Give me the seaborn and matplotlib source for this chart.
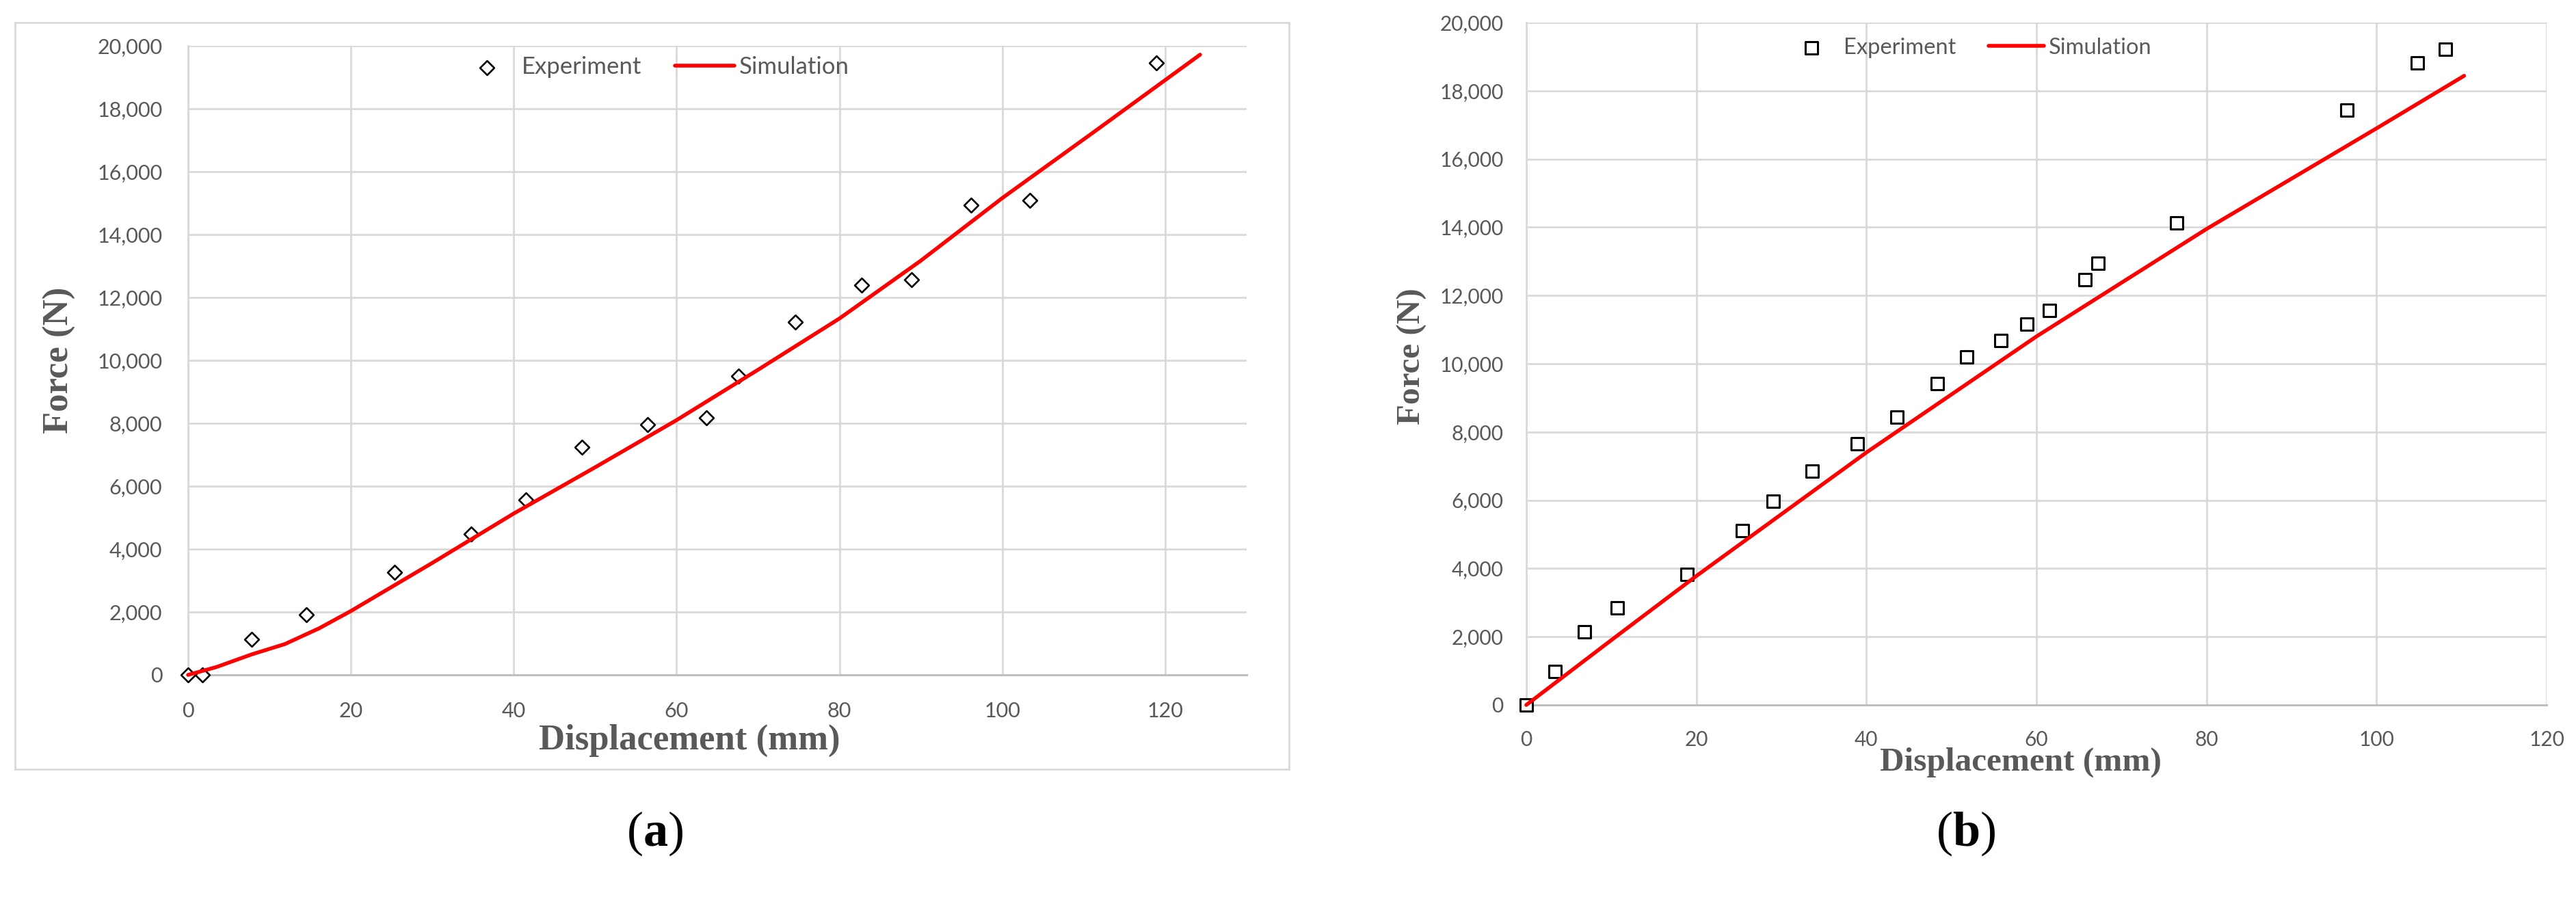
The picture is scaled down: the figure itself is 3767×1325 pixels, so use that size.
import matplotlib
matplotlib.use("Agg")
import matplotlib.pyplot as plt
import seaborn as sns
import pandas as pd
from matplotlib.patches import Rectangle
from matplotlib.ticker import FuncFormatter, MultipleLocator

# ---------------- data ----------------
exp_a_disp = [0, 1.8, 7.8, 14.5, 25.4, 34.8, 41.5, 48.4, 56.4, 63.7, 67.6, 74.6,
              82.7, 88.9, 96.2, 103.4, 118.9]
exp_a_force = [0, 0, 1140, 1920, 3270, 4480, 5570, 7240, 7960, 8170, 9500, 11210,
               12390, 12570, 14940, 15090, 19460]
sim_a_disp = [0, 3.5, 7.8, 11.9, 16.1, 20, 30, 40, 50, 60, 70, 80, 90, 100, 111.3, 124.3]
sim_a_force = [0, 250, 650, 980, 1480, 2030, 3560, 5130, 6600, 8100, 9700, 11330,
               13170, 15160, 17270, 19720]

exp_b_disp = [0, 3.35, 6.8, 10.7, 18.9, 25.4, 29.0, 33.6, 38.9, 43.6, 48.3, 51.8,
              55.8, 58.9, 61.5, 65.7, 67.2, 76.5, 96.5, 104.8, 108.1]
exp_b_force = [0, 980, 2140, 2840, 3820, 5100, 5980, 6860, 7650, 8430, 9420, 10200,
               10680, 11170, 11560, 12460, 12950, 14120, 17440, 18810, 19220]
sim_b_disp = [0, 10, 20, 40, 60, 80, 100, 110.3]
sim_b_force = [0, 1900, 3780, 7400, 10800, 13950, 16900, 18440]

x_label = "Displacement (mm)"
y_label = "Force (N)"
legend_labels = ["Experiment", "Simulation"]
panel_tags = ["a", "b"]

# ---------------- style ----------------
sns.set_style("white")
plt.rcParams["font.family"] = ["Lato", "DejaVu Sans"]
plt.rcParams["mathtext.fontset"] = "custom"
plt.rcParams["mathtext.rm"] = "Liberation Serif"
plt.rcParams["mathtext.bf"] = "Liberation Serif:bold"

GRAY_TXT = "#595959"
GRID = "#d9d9d9"

fig = plt.figure(figsize=(37.67, 13.25), dpi=100)

ax_a = fig.add_axes([0.0730, 0.2551, 0.4109, 0.6943])
ax_b = fig.add_axes([0.5925, 0.2219, 0.3961, 0.7532])

cfg = {
    "a": dict(ax=ax_a, ed=exp_a_disp, ef=exp_a_force, sd=sim_a_disp, sf=sim_a_force,
              marker="D", s=112, mlw=1.9, xmax=130, tick_fs=22, lab_fs=38,
              xpad=28, ypad=27, xlab=(0.474, -0.1043), ylab=(-0.1214, 0.5),
              leg=dict(fs=25, anchor=(0.4395, 0.9663), hl=2.5, htp=0.2, cs=1.41)),
    "b": dict(ax=ax_b, ed=exp_b_disp, ef=exp_b_force, sd=sim_b_disp, sf=sim_b_force,
              marker="s", s=169, mlw=2.2, xmax=120, tick_fs=21.5, lab_fs=35.5,
              xpad=26.5, ypad=24, xlab=(0.4846, -0.084), ylab=(-0.112, 0.511),
              leg=dict(fs=23.5, anchor=(0.4325, 0.963), hl=2.48, htp=0.21, cs=1.44)),
}

for key, c in cfg.items():
    ax = c["ax"]
    df_exp = pd.DataFrame({"disp": c["ed"], "force": c["ef"]})
    df_sim = pd.DataFrame({"disp": c["sd"], "force": c["sf"]})

    sns.scatterplot(data=df_exp, x="disp", y="force", ax=ax, marker=c["marker"],
                    s=c["s"], facecolor="white", edgecolor="black",
                    linewidth=c["mlw"], label=legend_labels[0], zorder=3,
                    clip_on=False)
    sns.lineplot(data=df_sim, x="disp", y="force", ax=ax, color="#ff0000",
                 linewidth=4.0, label=legend_labels[1], sort=False,
                 estimator=None, zorder=4, clip_on=False)

    ax.set_xlim(0, c["xmax"])
    ax.set_ylim(0, 20000)
    ax.xaxis.set_major_locator(MultipleLocator(20))
    ax.yaxis.set_major_locator(MultipleLocator(2000))
    ax.yaxis.set_major_formatter(FuncFormatter(lambda v, p: f"{v:,.0f}"))

    ax.grid(True, color=GRID, linewidth=2.0)
    ax.set_axisbelow(True)
    for side in ("top", "right"):
        ax.spines[side].set_visible(False)
    ax.spines["left"].set_color(GRID)
    ax.spines["left"].set_linewidth(2.0)
    ax.spines["bottom"].set_color("#bfbfbf")
    ax.spines["bottom"].set_linewidth(2.2)

    ax.tick_params(axis="both", length=0, labelsize=c["tick_fs"], labelcolor=GRAY_TXT)
    ax.tick_params(axis="x", pad=c["xpad"])
    ax.tick_params(axis="y", pad=c["ypad"])

    ax.set_xlabel(x_label, family="Liberation Serif", weight="bold",
                  fontsize=c["lab_fs"], color=GRAY_TXT, va="center")
    ax.set_ylabel(y_label, family="Liberation Serif", weight="bold",
                  fontsize=c["lab_fs"], color=GRAY_TXT, va="center")
    ax.xaxis.set_label_coords(*c["xlab"])
    ax.yaxis.set_label_coords(*c["ylab"])

    handles, labels = ax.get_legend_handles_labels()
    order = [labels.index(l) for l in legend_labels]
    lg = c["leg"]
    leg = ax.legend([handles[i] for i in order], [labels[i] for i in order],
                    loc="center", bbox_to_anchor=lg["anchor"], ncol=2,
                    frameon=False, fontsize=lg["fs"], handlelength=lg["hl"],
                    handletextpad=lg["htp"], columnspacing=lg["cs"],
                    borderpad=0, borderaxespad=0)
    for t in leg.get_texts():
        t.set_color(GRAY_TXT)

# outer frame around panel (a)
fig.patches.append(Rectangle((0.00584, 0.1509), 0.4946, 0.8242,
                             transform=fig.transFigure, fill=False,
                             edgecolor=GRID, linewidth=2.0))

# panel tags
for tag, xc in zip(panel_tags, [0.2543, 0.763]):
    fig.text(xc, 0.08, "($\\mathbf{" + tag + "}$)", ha="center", va="center",
             fontsize=52, family="Liberation Serif", color="black")

fig.savefig("out.png", dpi=100)
